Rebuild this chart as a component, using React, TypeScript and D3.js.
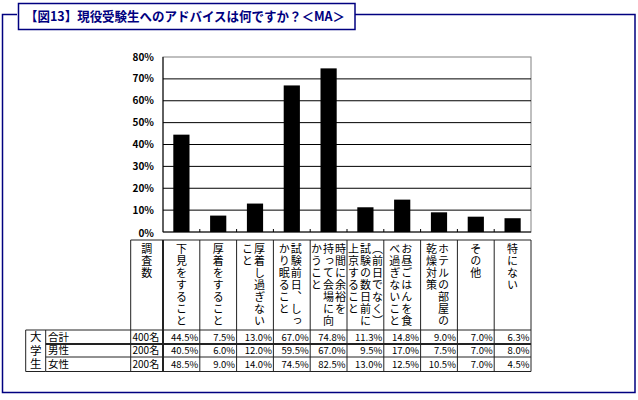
import React, {Component} from 'react';
import * as d3 from "d3";

// categories in the order of the table columns
const categories = [
    "下見をすること",
    "厚着をすること",
    "厚着し過ぎないこと",
    "試験前日、しっかり眠ること",
    "時間に余裕を持って会場に向かうこと",
    "（前日でなく）試験の数日前に上京すること",
    "お昼ごはんを食べ過ぎないこと",
    "ホテルの部屋の乾燥対策",
    "その他",
    "特にない"
];

// vertical header lines, right column first
const headerColumns = [
    ["下見をすること"],
    ["厚着をすること"],
    ["厚着し過ぎない", "こと"],
    ["試験前日、しっ", "かり眠ること"],
    ["時間に余裕を", "持って会場に向", "かうこと"],
    ["（前日でなく）", "試験の数日前に", "上京すること"],
    ["お昼ごはんを食", "べ過ぎないこと"],
    ["ホテルの部屋の", "乾燥対策"],
    ["その他"],
    ["特にない"]
];

const totalValues = [44.5, 7.5, 13.0, 67.0, 74.8, 11.3, 14.8, 9.0, 7.0, 6.3];
const maleValues = [40.5, 6.0, 12.0, 59.5, 67.0, 9.5, 17.0, 7.5, 7.0, 8.0];
const femaleValues = [48.5, 9.0, 14.0, 74.5, 82.5, 13.0, 12.5, 10.5, 7.0, 4.5];

const rowLabels = ["合計", "男性", "女性"];
const rowCounts = ["400名", "200名", "200名"];
const groupLabel = "大学生";
const countHeader = "調査数";
const yTickValues = [0, 10, 20, 30, 40, 50, 60, 70, 80];

const title = "【図13】現役受験生へのアドバイスは何ですか？＜MA＞";

const NAVY = "#000080";
const FONT = "'Noto Sans CJK JP', 'MS PGothic', sans-serif";

class App extends Component {
    constructor(props) {
        super(props)
        this.state = {
            width: 638,
            height: 400,
            plotLeft: 163,
            plotRight: 531,
            plotTop: 57,
            plotBottom: 232
        }
    }

    getXScale() {
        return d3.scaleBand()
            .domain(categories)
            .range([this.state.plotLeft, this.state.plotRight])
            .padding(0)
    }

    getYScale() {
        return d3.scaleLinear()
            .domain([0, 80])
            .range([this.state.plotBottom, this.state.plotTop])
    }

    generateYTicks(y) {
        const yFormat = d => `${d}%`
        return yTickValues.map(d => (
            <g key={d} transform={`translate(${this.state.plotLeft},${y(d)})`}>
                <text x="-9" y={d === 0 ? 5 : 3.5} textAnchor="end" fontSize="10" fontWeight="bold" fill="#000">{yFormat(d)}</text>
                {d > 0 && d < 80 ?
                    <line x1="0" x2={this.state.plotRight - this.state.plotLeft} y1="0" y2="0" stroke="#000" strokeWidth="1"/>
                    : null}
            </g>
        ))
    }

    generateBars(x, y) {
        const barWidth = x.bandwidth() * 0.44
        return categories.map((c, i) => (
            <rect key={c}
                x={x(c) + (x.bandwidth() - barWidth) / 2}
                y={y(totalValues[i])}
                width={barWidth}
                height={y(0) - y(totalValues[i])}
                fill="#000"/>
        ))
    }

    generateXTicks(x) {
        return categories.slice(1).map(c => (
            <line key={c} x1={x(c)} x2={x(c)} y1={this.state.plotBottom - 3} y2={this.state.plotBottom} stroke="#000"/>
        ))
    }

    generateHeader(x) {
        const top = 240, bottom = 330, pitch = 12
        return categories.map((c, i) => {
            const cols = headerColumns[i]
            const cx = x(c) + x.bandwidth() / 2 - (cols.length === 2 ? 1.5 : 0)
            return (
                <g key={c}>
                    {cols.map((line, j) => (
                        <text key={j}
                            x={cx + (cols.length - 1) / 2 * pitch - j * pitch}
                            y={top + 3}
                            fontSize="11"
                            letterSpacing="1"
                            style={{writingMode: "vertical-rl"}}
                            fill="#000">{line}</text>
                    ))}
                    <line x1={x(c) + x.bandwidth()} x2={x(c) + x.bandwidth()} y1={top} y2={bottom} stroke="#222"/>
                </g>
            )
        })
    }

    generateRows(x) {
        const rowEdges = [330, 344, 357, 371.5]
        const fmt = d3.format(".1f")
        const series = [totalValues, maleValues, femaleValues]
        return series.map((vals, r) => {
            const y0 = rowEdges[r], y1 = rowEdges[r + 1]
            const base = (y0 + y1) / 2 + 3.5
            return (
                <g key={r}>
                    <text x="48" y={base} fontSize="10.5" fill="#000">{rowLabels[r]}</text>
                    <text x="132.5" y={base} fontSize="10" fill="#000">{rowCounts[r]}</text>
                    {vals.map((v, i) => (
                        <text key={i} x={x(categories[i]) + x.bandwidth() - 1.5} y={base} fontSize="9.5" textAnchor="end" fill="#000">{`${fmt(v)}%`}</text>
                    ))}
                    <line x1="45.7" x2={this.state.plotRight} y1={y1} y2={y1} stroke="#222" strokeWidth={r === 0 ? 2 : 1}/>
                </g>
            )
        })
    }

    render() {
        const x = this.getXScale()
        const y = this.getYScale()
        const s = this.state

        return (
            <svg width={s.width} height={s.height} style={{position: "absolute", left: 0, top: 0, fontFamily: FONT, background: "#fff"}}>
                {/* outer frame */}
                <path d={`M17,14.5 H2.5 V392.5 H635 V14.5 H355`} fill="none" stroke={NAVY} strokeWidth="1.5"/>
                <rect x="18.5" y="3.5" width="336.5" height="26" fill="#fff" stroke={NAVY} strokeWidth="1.5"/>
                <text x="25" y="21" fontSize="13" fontWeight="bold" fill={NAVY} textLength="320" lengthAdjust="spacingAndGlyphs">{title}</text>

                {/* plot area */}
                <rect x={s.plotLeft} y={s.plotTop} width={s.plotRight - s.plotLeft} height={s.plotBottom - s.plotTop} fill="#fff" stroke="#808080"/>
                <g className="axis-labels">{this.generateYTicks(y)}</g>
                {this.generateBars(x, y)}
                <line x1={s.plotLeft} x2={s.plotLeft} y1={s.plotTop} y2={s.plotBottom} stroke="#000"/>
                <line x1={s.plotLeft} x2={s.plotRight} y1={s.plotBottom} y2={s.plotBottom} stroke="#000"/>
                {this.generateXTicks(x)}

                {/* data table */}
                <g className="table">
                    <line x1="130.7" x2={s.plotRight} y1="240" y2="240" stroke="#222"/>
                    <line x1="130.7" x2="130.7" y1="240" y2="371.5" stroke="#222"/>
                    <line x1={s.plotLeft} x2={s.plotLeft} y1="240" y2="371.5" stroke="#222" strokeWidth="2"/>
                    <text x="146.8" y="243" fontSize="11" letterSpacing="1" style={{writingMode: "vertical-rl"}} fill="#000">{countHeader}</text>
                    {this.generateHeader(x)}
                    <line x1="25.7" x2={s.plotRight} y1="330" y2="330" stroke="#222"/>
                    <line x1="25.7" x2="25.7" y1="330" y2="371.5" stroke="#222"/>
                    <line x1="45.7" x2="45.7" y1="330" y2="371.5" stroke="#222"/>
                    <line x1="25.7" x2="45.7" y1="371.5" y2="371.5" stroke="#222"/>
                    {categories.map(c => (
                        <line key={c} x1={x(c) + x.bandwidth()} x2={x(c) + x.bandwidth()} y1="330" y2="371.5" stroke="#222"/>
                    ))}
                    <text x="35.7" y="331" fontSize="11.5" letterSpacing="2" style={{writingMode: "vertical-rl"}} fill="#000">{groupLabel}</text>
                    {this.generateRows(x)}
                </g>
            </svg>
        )
    }
}

export default App;
